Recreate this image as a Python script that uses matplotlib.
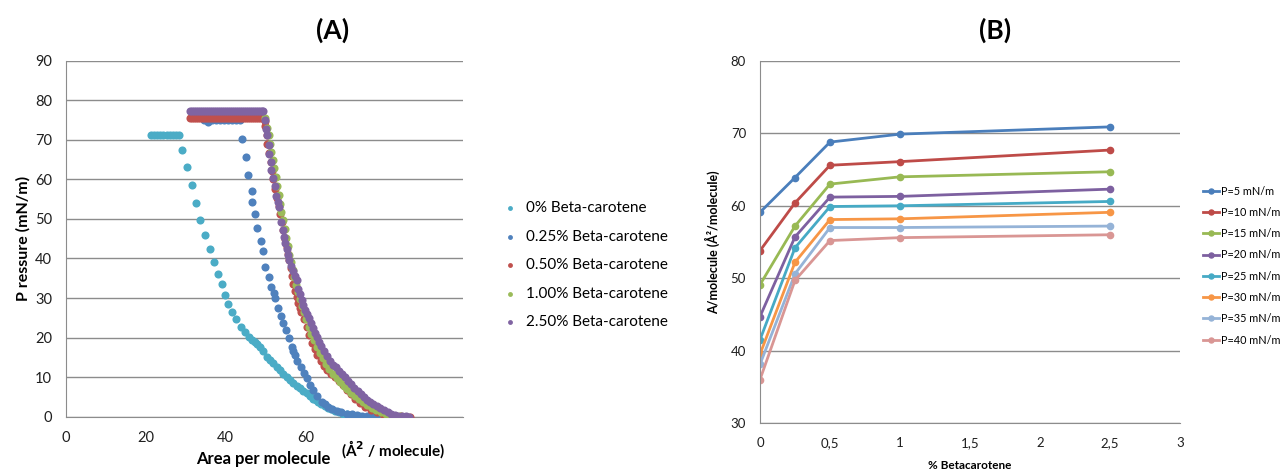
import matplotlib
matplotlib.use('Agg')
import matplotlib.pyplot as plt

plt.rcParams['font.family'] = ['Lato', 'DejaVu Sans']

# Isotermas (A): area por molecula vs presion superficial
area_0 = [21.2, 22.0, 22.8, 23.6, 24.4, 25.2, 26.0, 26.8, 27.6, 28.4,
          29.1, 30.4, 31.6, 32.7, 33.7, 34.8, 36.0, 37.2, 38.0, 39.1,
          39.8, 40.6, 41.5, 42.6, 43.8, 44.8, 45.9, 46.6, 47.3, 47.9,
          48.6, 49.4, 50.3, 51.1, 51.9, 52.8, 53.6, 54.5, 55.3, 56.2,
          57.0, 57.8, 58.6, 59.5, 60.3, 61.2, 62.0, 62.6, 63.2, 64.0,
          64.8, 65.6, 66.5, 67.4, 68.4, 69.4, 70.4, 71.4, 72.4, 73.4]
pres_0 = [71.3, 71.3, 71.3, 71.3, 71.3, 71.3, 71.3, 71.3, 71.3, 71.3,
          67.5, 63.0, 58.6, 53.9, 49.7, 46.0, 42.4, 39.1, 36.1, 33.5,
          30.8, 28.4, 26.5, 24.6, 22.8, 21.3, 20.2, 19.4, 19.0, 18.4,
          17.7, 16.6, 15.2, 14.4, 13.5, 12.6, 11.8, 10.9, 10.1, 9.2,
          8.4, 7.8, 7.2, 6.5, 5.9, 5.2, 4.6, 4.2, 3.8, 3.3,
          2.8, 2.3, 1.9, 1.5, 1.1, 0.8, 0.6, 0.4, 0.3, 0.2]

area_025 = [34.5, 35.6, 36.6, 37.6, 38.6, 39.6, 40.6, 41.6, 42.6, 43.5,
            44.1, 45.0, 45.6, 46.5, 46.7, 47.3, 47.8, 48.8, 49.3, 49.9,
            50.8, 51.5, 52.1, 52.4, 53.2, 53.8, 54.4, 55.2, 55.9, 56.7,
            57.0, 57.4, 58.0, 58.9, 59.7, 60.5, 61.1, 62.0, 63.0, 64.1,
            65.0, 65.7, 66.7, 67.8, 69.0, 70.4, 71.6, 72.9, 74.2, 75.4,
            76.6, 77.8]
pres_025 = [75.0, 74.6, 75.0, 75.0, 75.0, 75.0, 75.0, 75.0, 75.0, 75.0,
            70.2, 65.7, 61.0, 57.1, 54.4, 51.2, 47.6, 44.4, 41.8, 37.9,
            35.2, 32.9, 31.2, 29.9, 27.6, 25.5, 23.8, 22.0, 19.8, 17.7,
            16.7, 15.6, 14.1, 12.6, 11.0, 9.7, 8.0, 6.8, 5.2, 3.8,
            3.1, 2.5, 1.9, 1.5, 1.1, 0.8, 0.6, 0.4, 0.3, 0.2,
            0.1, 0.0]

area_050 = [31.0, 31.5, 32.0, 32.5, 33.0, 33.5, 34.0, 34.5, 35.0, 35.5,
            36.0, 36.5, 37.0, 37.5, 38.0, 38.5, 39.0, 39.5, 40.0, 40.5,
            41.0, 41.5, 42.0, 42.5, 43.0, 43.5, 44.0, 44.5, 45.0, 45.5,
            46.0, 46.5, 47.0, 47.5, 48.0, 48.5, 49.0, 49.4,
            49.8, 50.0, 50.3, 50.5, 50.9, 51.3, 51.6, 52.0, 52.4, 52.8,
            53.3, 53.7, 54.1, 54.5, 54.9, 55.3, 55.6, 56.0, 56.3, 56.6,
            56.9, 57.3, 57.8, 58.2, 58.6, 59.0, 59.6, 60.3, 60.9, 61.6,
            62.3, 63.0, 63.8, 64.6, 65.5, 66.4, 67.4, 68.4, 69.4, 70.4,
            71.4, 72.5, 73.7, 75.0, 76.4, 77.9, 79.4, 80.9, 82.4, 83.9,
            85.3, 86.3]
pres_050 = [75.4, 75.4, 75.4, 75.4, 75.4, 75.4, 75.4, 75.4, 75.4, 75.4,
            75.4, 75.4, 75.4, 75.4, 75.4, 75.4, 75.4, 75.4, 75.4, 75.4,
            75.4, 75.4, 75.4, 75.4, 75.4, 75.4, 75.4, 75.4, 75.4, 75.4,
            75.4, 75.4, 75.4, 75.4, 75.4, 75.4, 75.4, 75.4,
            74.8, 73.5, 71.2, 68.9, 66.6, 64.3, 62.2, 60.2, 57.6, 55.4,
            53.3, 51.3, 49.3, 47.1, 44.9, 42.8, 41.2, 39.6, 37.6, 35.5,
            33.5, 31.8, 30.2, 28.7, 27.6, 26.5, 24.6, 22.8, 20.7, 18.6,
            17.0, 15.6, 14.2, 12.9, 11.7, 10.8, 10.0, 9.0, 7.9, 6.8,
            5.7, 4.5, 3.4, 2.5, 1.7, 1.1, 0.7, 0.4, 0.2, 0.1,
            0.0, 0.0]

area_100 = [49.9, 50.4, 50.8, 51.2, 51.5, 51.8, 52.2, 52.6, 52.9, 53.3,
            53.7, 54.0, 54.4, 54.8, 55.2, 55.6, 56.0, 56.4, 56.8, 57.2,
            57.6, 58.1, 58.6, 59.1, 59.6, 60.2, 60.8, 61.5, 62.2, 62.9,
            63.6, 64.4, 65.2, 66.0, 66.9, 67.8, 68.7, 69.6, 70.5, 71.4,
            72.4, 73.4, 74.4, 75.5, 76.6, 77.8, 79.0, 80.2, 81.4, 82.6,
            83.8, 85.0]
pres_100 = [75.5, 73.0, 71.3, 69.0, 67.0, 65.0, 62.8, 60.5, 58.3, 56.0,
            53.8, 51.8, 49.7, 47.5, 45.3, 43.2, 41.0, 39.0, 37.1, 35.3,
            33.4, 31.6, 29.8, 28.1, 26.4, 24.6, 22.8, 21.0, 19.3, 17.7,
            16.2, 14.8, 13.4, 12.1, 10.9, 9.8, 8.8, 7.8, 6.9, 6.0,
            5.2, 4.4, 3.6, 2.9, 2.2, 1.6, 1.1, 0.7, 0.4, 0.2,
            0.1, 0.0]

area_250 = [31.0, 31.5, 32.0, 32.5, 33.0, 33.5, 34.0, 34.5, 35.0, 35.5,
            36.0, 36.5, 37.0, 37.5, 38.0, 38.5, 39.0, 39.5, 40.0, 40.5,
            41.0, 41.5, 42.0, 42.5, 43.0, 43.5, 44.0, 44.5, 45.0, 45.5,
            46.0, 46.5, 47.0, 47.5, 48.0, 48.5, 49.0, 49.4,
            49.9, 50.2, 50.5, 50.8, 51.0, 51.3, 51.5, 51.9, 52.3, 52.7,
            53.1, 53.4, 53.9, 54.3, 54.7, 55.0, 55.4, 55.7, 56.0, 56.5,
            57.0, 57.4, 57.9, 58.2, 58.7, 59.2, 59.5, 59.8, 60.4, 61.0,
            61.4, 61.9, 62.4, 62.8, 63.4, 64.0, 64.7, 65.4, 66.1, 66.8,
            67.6, 68.4, 69.2, 69.9, 70.7, 71.5, 72.3, 73.1, 73.9, 74.7,
            75.5, 76.3, 77.0, 77.9, 78.8, 79.7, 80.6, 81.5, 82.4, 83.3,
            84.2, 85.1, 86.0]
pres_250 = [77.2, 77.2, 77.2, 77.2, 77.2, 77.2, 77.2, 77.2, 77.2, 77.2,
            77.2, 77.2, 77.2, 77.2, 77.2, 77.2, 77.2, 77.2, 77.2, 77.2,
            77.2, 77.2, 77.2, 77.2, 77.2, 77.2, 77.2, 77.2, 77.2, 77.2,
            77.2, 77.2, 77.2, 77.2, 77.2, 77.2, 77.2, 77.2,
            75.0, 72.8, 71.2, 68.8, 66.5, 64.4, 62.4, 60.4, 58.4, 55.9,
            54.4, 53.0, 49.2, 47.3, 45.4, 44.0, 42.5, 41.0, 39.5, 38.1,
            36.8, 35.6, 34.5, 32.4, 31.0, 29.5, 28.2, 27.0, 26.0, 24.9,
            23.6, 22.3, 21.1, 20.2, 19.0, 17.8, 16.6, 15.4, 14.2, 13.1,
            12.6, 11.6, 10.7, 10.0, 9.1, 8.2, 7.3, 6.5, 5.7, 5.0,
            4.3, 3.7, 3.3, 2.7, 2.1, 1.6, 1.2, 0.8, 0.5, 0.3,
            0.2, 0.1, 0.0]

series_a = [
    (area_0, pres_0, '0% Beta-carotene', '#4BACC6'),
    (area_025, pres_025, '0.25% Beta-carotene', '#4F81BD'),
    (area_050, pres_050, '0.50% Beta-carotene', '#C0504D'),
    (area_100, pres_100, '1.00% Beta-carotene', '#9BBB59'),
    (area_250, pres_250, '2.50% Beta-carotene', '#8064A2'),
]

# (B): area por molecula vs % betacaroteno a presion constante
pct = [0, 0.25, 0.5, 1, 2.5]
a_p5 = [59.1, 63.9, 68.8, 69.9, 70.9]
a_p10 = [53.8, 60.4, 65.6, 66.1, 67.7]
a_p15 = [49.1, 57.2, 63.0, 64.0, 64.7]
a_p20 = [44.7, 55.7, 61.2, 61.3, 62.3]
a_p25 = [41.5, 54.2, 59.9, 60.0, 60.6]
a_p30 = [39.5, 52.2, 58.1, 58.2, 59.1]
a_p35 = [38.1, 50.6, 57.0, 57.0, 57.2]
a_p40 = [36.0, 49.7, 55.2, 55.6, 56.0]

series_b = [
    (a_p5, 'P=5 mN/m', '#4A7EBB'),
    (a_p10, 'P=10 mN/m', '#BE4B48'),
    (a_p15, 'P=15 mN/m', '#98B954'),
    (a_p20, 'P=20 mN/m', '#7D60A0'),
    (a_p25, 'P=25 mN/m', '#46AAC5'),
    (a_p30, 'P=30 mN/m', '#F79646'),
    (a_p35, 'P=35 mN/m', '#95B3D7'),
    (a_p40, 'P=40 mN/m', '#D99694'),
]

grid_color = '#8C8C8C'
W, H = 1286, 470
fig = plt.figure(figsize=(W / 100, H / 100), dpi=100)


def estilo(ax):
    for s in ['top', 'right']:
        ax.spines[s].set_visible(False)
    ax.spines['left'].set_color(grid_color)
    ax.spines['bottom'].set_color(grid_color)
    ax.yaxis.grid(True, color=grid_color, linewidth=1)
    ax.set_axisbelow(True)
    ax.tick_params(length=0, labelsize=10.5, colors='#1F1F1F', pad=10)


# ---- Panel A ----
axA = fig.add_axes([66 / W, (H - 416.7) / H, (463 - 66) / W, 356 / H])
for x, y, lab, col in series_a:
    axA.scatter(x, y, s=34, color=col, label=lab, linewidths=0, zorder=3)
axA.set_xlim(0, 99.5)
axA.set_ylim(0, 90)
axA.set_xticks([0, 20, 40, 60])
axA.set_yticks(range(0, 91, 10))
estilo(axA)
axA.set_ylabel('P ressure (mN/m)', fontsize=11.5, fontweight='bold', labelpad=3)
axA.legend(loc='center left', bbox_to_anchor=(1.065, 0.425), frameon=False,
           fontsize=11, markerscale=0.6, handletextpad=0.05, labelspacing=0.95,
           borderaxespad=0)
fig.text(263 / W, (H - 459) / H, 'Area per molecule', fontsize=12,
         fontweight='bold', ha='center', va='center')
fig.text(393 / W, (H - 449) / H, '(Å$^{\\mathbf{2}}$ / molecule)', fontsize=11,
         fontweight='bold', ha='center', va='center',
         bbox=dict(facecolor='white', edgecolor='none', pad=3))
fig.text(333 / W, (H - 30) / H, '(A)', fontsize=19, fontweight='bold',
         ha='center', va='center')

# ---- Panel B ----
axB = fig.add_axes([760 / W, (H - 423) / H, 420 / W, 362 / H])
for y, lab, col in series_b:
    axB.plot(pct, y, color=col, linewidth=2, marker='o', markersize=4.5,
             label=lab)
axB.set_xlim(0, 3)
axB.set_ylim(30, 80)
axB.set_xticks([0, 0.5, 1, 1.5, 2, 2.5, 3])
axB.set_xticklabels(['0', '0,5', '1', '1,5', '2', '2,5', '3'])
axB.set_yticks(range(30, 81, 10))
estilo(axB)
axB.tick_params(labelsize=9.5)
axB.set_ylabel('A/molecule (Å²/molecule)', fontsize=9, fontweight='bold',
               labelpad=8)
axB.set_xlabel('% Betacarotene', fontsize=8.5, fontweight='bold', labelpad=8)
axB.legend(loc='center left', bbox_to_anchor=(1.045, 0.435), frameon=False,
           fontsize=7.8, handlelength=1.5, handletextpad=0.15,
           labelspacing=0.95, borderaxespad=0, markerscale=0.8)
fig.text(995 / W, (H - 30) / H, '(B)', fontsize=19, fontweight='bold',
         ha='center', va='center')

fig.savefig('out.png', dpi=100, facecolor='white')
